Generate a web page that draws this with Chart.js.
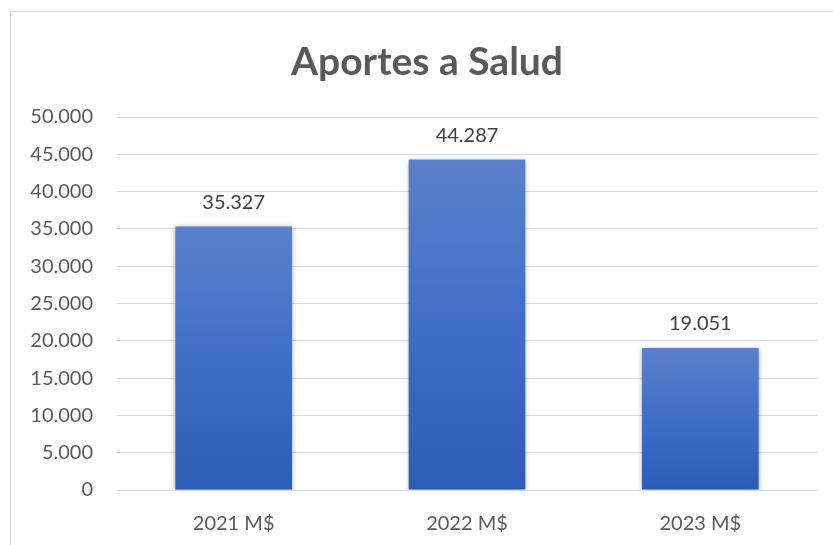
<!DOCTYPE html>
<html>
<head>
<meta charset="utf-8">
<script src="https://cdn.jsdelivr.net/npm/chart.js@4.4.1/dist/chart.umd.min.js"></script>
<style>
  html, body { margin: 0; padding: 0; background: #ffffff; }
  #wrap { width: 833px; height: 545px; position: relative; }
</style>
</head>
<body>
<div id="wrap"><canvas id="c" width="833" height="545"></canvas></div>
<script>
const categories = ['2021 M$', '2022 M$', '2023 M$'];
const aportes = [35327, 44287, 19051];
const titleText = 'Aportes a Salud';
const yMin = 0;
const yMax = 50000;
const yStep = 5000;

function fmt(v) {
  return String(Math.round(v)).replace(/\B(?=(\d{3})+(?!\d))/g, '.');
}

const frame = {
  id: 'frame',
  beforeDraw(chart) {
    const ctx = chart.ctx;
    ctx.save();
    ctx.fillStyle = '#ffffff';
    ctx.fillRect(0, 0, chart.width, chart.height);
    ctx.strokeStyle = '#d9d9d9';
    ctx.lineWidth = 1;
    ctx.strokeRect(10.5, 11.5, 900, 900);
    ctx.restore();
  },
  afterDraw(chart) {
    const ctx = chart.ctx;
    ctx.save();
    ctx.font = 'bold 39px Lato';
    ctx.fillStyle = '#595959';
    ctx.textAlign = 'center';
    ctx.textBaseline = 'alphabetic';
    ctx.fillText(titleText, 427, 75);
    ctx.restore();
  }
};

const barShadow = {
  id: 'barShadow',
  beforeDatasetDraw(chart) {
    const ctx = chart.ctx;
    ctx.save();
    ctx.shadowColor = 'rgba(0,0,0,0.35)';
    ctx.shadowBlur = 5;
    ctx.shadowOffsetX = 0;
    ctx.shadowOffsetY = 1;
  },
  afterDatasetDraw(chart) {
    chart.ctx.restore();
  }
};

const valueLabels = {
  id: 'valueLabels',
  afterDatasetsDraw(chart) {
    const ctx = chart.ctx;
    const meta = chart.getDatasetMeta(0);
    ctx.save();
    ctx.font = '20px Lato';
    ctx.fillStyle = '#404040';
    ctx.textAlign = 'center';
    ctx.textBaseline = 'middle';
    meta.data.forEach((bar, i) => {
      ctx.fillText(fmt(aportes[i]), bar.x, bar.y - 24);
    });
    ctx.restore();
  }
};

function barGradient(context) {
  const chart = context.chart;
  const ys = chart.scales && chart.scales.y;
  if (!chart.chartArea || !ys || context.dataIndex === undefined) return '#4472c4';
  const v = context.dataset.data[context.dataIndex];
  const top = ys.getPixelForValue(v);
  const bottom = ys.getPixelForValue(0);
  const g = chart.ctx.createLinearGradient(0, top, 0, bottom);
  g.addColorStop(0, '#5b80ca');
  g.addColorStop(0.5, '#3f6ec7');
  g.addColorStop(1, '#2d5cb5');
  return g;
}

new Chart(document.getElementById('c'), {
  type: 'bar',
  data: {
    labels: categories,
    datasets: [{
      label: titleText,
      data: aportes,
      backgroundColor: barGradient,
      borderWidth: 0,
      barPercentage: 0.5,
      categoryPercentage: 1.0
    }]
  },
  options: {
    responsive: false,
    animation: false,
    layout: { padding: { left: 0, right: 16, top: 117, bottom: 0 } },
    plugins: {
      legend: { display: false },
      tooltip: { enabled: false },
      title: { display: false }
    },
    scales: {
      x: {
        grid: { display: false, drawTicks: false },
        border: { display: false },
        ticks: { color: '#595959', font: { family: 'Lato', size: 20 }, padding: 22 },
        afterFit(scale) { scale.height = 55; }
      },
      y: {
        min: yMin,
        max: yMax,
        grid: { color: '#d9d9d9', lineWidth: 1, drawTicks: false },
        border: { display: false },
        ticks: {
          stepSize: yStep,
          color: '#595959',
          font: { family: 'Lato', size: 20 },
          padding: 24,
          callback: (v) => fmt(v)
        },
        afterFit(scale) { scale.width = 117; }
      }
    }
  },
  plugins: [frame, barShadow, valueLabels]
});
</script>
</body>
</html>
